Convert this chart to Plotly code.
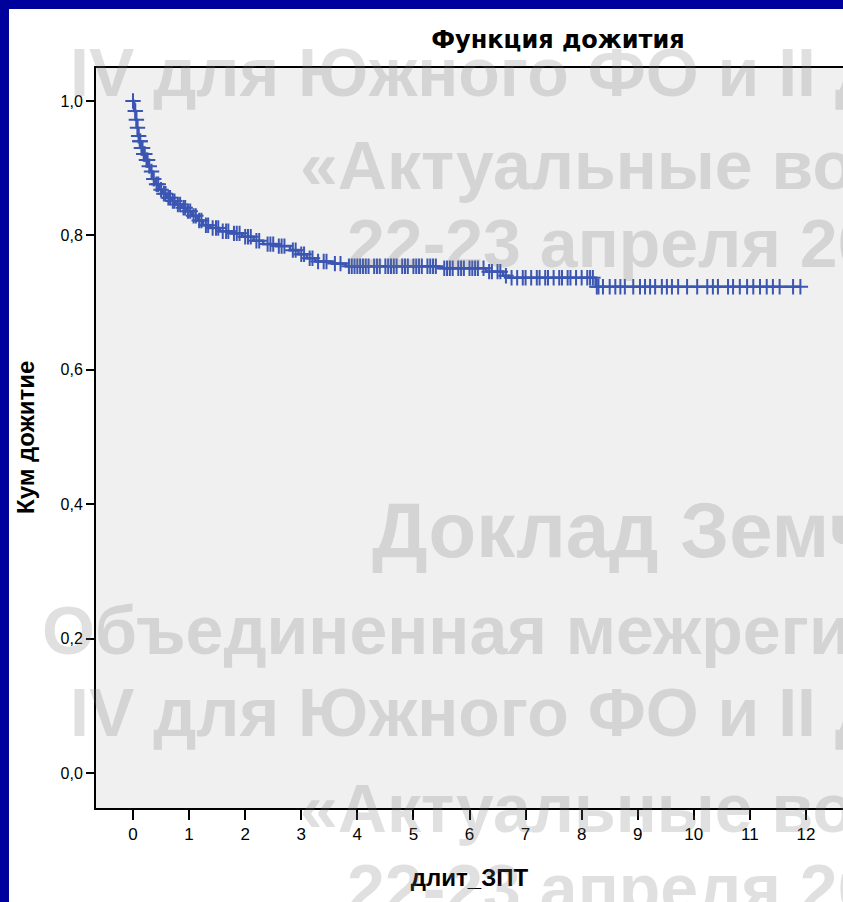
import numpy as np
import plotly.graph_objects as go

# Kaplan-Meier step curve (time in years, cumulative survival)
event_times = [0.0, 0.02, 0.05, 0.07, 0.09, 0.11, 0.14, 0.18, 0.22, 0.27, 0.31, 0.35,
               0.40, 0.46, 0.53, 0.60, 0.68, 0.76, 0.86, 0.95, 1.05, 1.15, 1.25, 1.38,
               1.55, 1.75, 1.95, 2.15, 2.32, 2.55, 2.80, 2.95, 3.10, 3.25, 3.55, 3.80,
               5.45, 6.30, 6.60, 6.70, 8.25, 11.90]
survival = [1.000, 0.985, 0.972, 0.960, 0.948, 0.940, 0.930, 0.921, 0.912, 0.903, 0.895, 0.884,
            0.876, 0.868, 0.862, 0.856, 0.851, 0.846, 0.841, 0.836, 0.829, 0.822, 0.815, 0.811,
            0.806, 0.803, 0.798, 0.792, 0.787, 0.784, 0.778, 0.772, 0.766, 0.761, 0.758, 0.754,
            0.751, 0.746, 0.740, 0.737, 0.7235, 0.7235]

# censored observations (time)
censor_times = [0.0, 0.04, 0.06, 0.08, 0.10, 0.12, 0.13, 0.15, 0.17, 0.19, 0.21, 0.24, 0.26,
                0.29, 0.33, 0.37, 0.42, 0.45, 0.50, 0.55, 0.58, 0.63, 0.66, 0.71, 0.74, 0.80,
                0.84, 0.90, 0.93, 0.98, 1.02, 1.08, 1.12, 1.18, 1.22, 1.30, 1.34, 1.42, 1.48,
                1.52, 1.60, 1.66, 1.70, 1.80, 1.85, 1.90, 2.00, 2.05, 2.10, 2.20, 2.25, 2.40,
                2.45, 2.50, 2.60, 2.65, 2.70, 2.85, 2.90, 3.00, 3.05, 3.15, 3.20, 3.30, 3.40,
                3.45, 3.60, 3.70, 3.85, 3.90, 3.95, 4.00, 4.05, 4.10, 4.15, 4.20, 4.30, 4.35,
                4.40, 4.50, 4.55, 4.60, 4.65, 4.70, 4.80, 4.85, 4.90, 5.00, 5.05, 5.10, 5.15,
                5.25, 5.30, 5.35, 5.40, 5.55, 5.60, 5.65, 5.70, 5.80, 5.85, 5.90, 6.00, 6.05,
                6.10, 6.15, 6.25, 6.35, 6.40, 6.50, 6.55, 6.65, 6.75, 6.85, 6.95, 7.00, 7.10,
                7.20, 7.25, 7.35, 7.40, 7.50, 7.60, 7.65, 7.75, 7.80, 7.90, 8.00, 8.10, 8.15,
                8.20, 8.27, 8.30, 8.38, 8.50, 8.60, 8.69, 8.77, 8.92, 9.04, 9.13, 9.22, 9.31,
                9.43, 9.52, 9.61, 9.72, 9.88, 10.06, 10.24, 10.34, 10.43, 10.61, 10.70, 10.82,
                10.95, 11.06, 11.18, 11.30, 11.41, 11.53, 11.77, 11.90]

y_ticks = [0.0, 0.2, 0.4, 0.6, 0.8, 1.0]
x_ticks = list(range(0, 13))

title_text = "Функция дожития"
x_title = "длит_ЗПТ"
y_title = "Кум дожитие"

watermarks = [
    ("IV для Южного ФО и II для", 68, 72),
    ("«Актуальные вопросы", 298, 165),
    ("22-23 апреля 2016", 345, 243),
    ("Доклад Земченкова", 370, 530),
    ("Объединенная межрегиональная", 40, 630),
    ("IV для Южного ФО и II для", 68, 712),
    ("«Актуальные вопросы", 298, 808),
    ("22-23 апреля 2016", 345, 888),
]

# survival value at each censored time (step-function lookup)
et = np.array(event_times)
sv = np.array(survival)
idx = np.searchsorted(et, np.array(censor_times), side="right") - 1
censor_surv = sv[idx]

W, H = 843, 902
ML, MR, MT, MB = 96, 0, 68, 94
PW, PH = W - ML - MR, H - MT - MB

def px_x(p):
    return (p - ML) / PW

def px_y(p):
    return (H - MB - p) / PH

blue = "#3B56B2"
narrow = "Liberation Sans Narrow, Arial Narrow, Liberation Sans, Arial, sans-serif"

fig = go.Figure()
fig.add_trace(go.Scatter(
    x=event_times, y=survival, mode="lines", line_shape="hv",
    line=dict(color=blue, width=2.6), hoverinfo="skip", showlegend=False))
fig.add_trace(go.Scatter(
    x=censor_times, y=censor_surv, mode="markers",
    marker=dict(symbol="cross-thin", size=11, line=dict(color=blue, width=2)),
    hoverinfo="skip", showlegend=False))

annotations = []
for text, xp, yp in watermarks:
    size = 68 if not text.startswith("Доклад") else 78
    annotations.append(dict(
        text=text, xref="paper", yref="paper", x=px_x(xp), y=px_y(yp),
        xanchor="left", yanchor="middle", showarrow=False,
        font=dict(family="Liberation Sans, Arial, sans-serif",
                  size=size, color="rgba(120,120,120,0.23)", weight="bold")))

annotations.append(dict(
    text=y_title, xref="paper", yref="paper", x=px_x(25), y=px_y(438),
    xanchor="center", yanchor="middle", textangle=-90, showarrow=False,
    font=dict(family=narrow, size=24, color="black", weight="bold")))

shapes = [
    dict(type="rect", xref="paper", yref="paper", x0=px_x(0), x1=px_x(9), y0=px_y(H), y1=px_y(0),
         fillcolor="#00009C", line=dict(width=0), layer="above"),
    dict(type="rect", xref="paper", yref="paper", x0=px_x(0), x1=px_x(W), y0=px_y(9), y1=px_y(0),
         fillcolor="#00009C", line=dict(width=0), layer="above"),
]

fig.update_layout(
    width=W, height=H,
    margin=dict(l=ML, r=MR, t=MT, b=MB, pad=0),
    paper_bgcolor="white", plot_bgcolor="#F0F0F0",
    separators=", ",
    font=dict(family=narrow, color="black"),
    title=dict(text=title_text, xref="paper", x=px_x(558), xanchor="center",
               yref="container", y=1 - 40 / H, yanchor="middle",
               font=dict(family="DejaVu Sans, Verdana, sans-serif", size=24, color="black", weight="bold")),
    xaxis=dict(range=[-0.66, 12.66], tickvals=x_ticks, ticks="outside", ticklen=10, tickwidth=1.5,
               tickcolor="black", showline=True, linecolor="black", linewidth=2, mirror=True,
               showgrid=False, zeroline=False, tickfont=dict(size=17),
               title=dict(text=x_title, font=dict(size=24, weight="bold"), standoff=26)),
    yaxis=dict(range=[-0.052, 1.049], tickvals=y_ticks, tickformat=".1f", ticks="outside", ticklen=8,
               tickwidth=1.5, tickcolor="black", showline=True, linecolor="black", linewidth=2,
               showgrid=False, zeroline=False, tickfont=dict(size=16)),
    annotations=annotations,
    shapes=shapes,
)

fig.write_html("out.html")
